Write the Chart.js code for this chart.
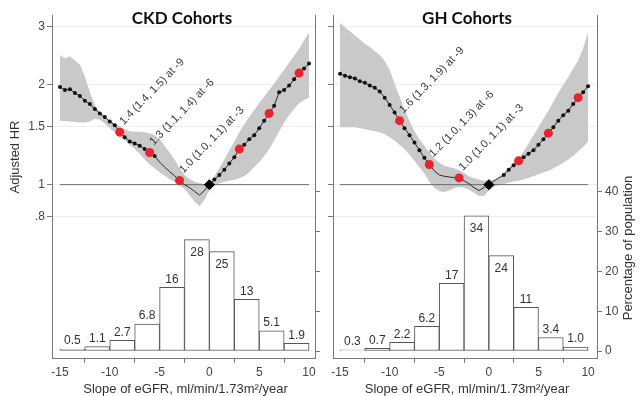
<!DOCTYPE html>
<html>
<head>
<meta charset="utf-8">
<title>eGFR slope - Adjusted HR</title>
<script src="https://cdn.jsdelivr.net/npm/chart.js@4.4.0/dist/chart.umd.min.js"></script>
<style>
    body { margin: 0; background: #fff; }
    .panels { display: flex; width: 642px; height: 396px; }
    canvas { display: block; }
</style>
</head>
<body>
<div class="panels">
    <canvas id="ckdChart" width="321" height="396"></canvas>
    <canvas id="ghChart" width="321" height="396"></canvas>
</div>
<script>
// Pendiente de eGFR (eje x), cada 0.5
const slopes = [-15, -14.5, -14, -13.5, -13, -12.5, -12, -11.5, -11, -10.5, -10, -9.5, -9, -8.5, -8, -7.5, -7, -6.5, -6, -5.5,
    -5, -4.5, -4, -3.5, -3, -2.5, -2, -1.5, -1, -0.5, 0, 0.5, 1, 1.5, 2, 2.5, 3, 3.5, 4, 4.5,
    5, 5.5, 6, 6.5, 7, 7.5, 8, 8.5, 9, 9.5, 10];

// CKD: HR ajustado y banda de confianza
const ckdHR = [1.97, 1.93, 1.94, 1.89, 1.85, 1.79, 1.75, 1.69, 1.64, 1.60, 1.55, 1.51, 1.44, 1.39, 1.35, 1.33, 1.31, 1.28, 1.25, 1.22,
    1.17, 1.13, 1.095, 1.064, 1.03, 1.0, 0.98, 0.955, 0.93, 0.96, 1.0, 1.036, 1.07, 1.11, 1.158, 1.21, 1.28, 1.32, 1.37, 1.41,
    1.48, 1.56, 1.64, 1.73, 1.90, 1.93, 1.99, 2.08, 2.17, 2.24, 2.32];
const ckdLow = [1.56, 1.555, 1.55, 1.545, 1.54, 1.54, 1.55, 1.58, 1.57, 1.53, 1.48, 1.44, 1.40, 1.36, 1.32, 1.28, 1.24, 1.19, 1.15, 1.12,
    1.09, 1.065, 1.04, 1.02, 1.0, 0.97, 0.93, 0.89, 0.86, 0.90, 0.96, 0.99, 1.01, 1.02, 1.03, 1.035, 1.045, 1.06, 1.09, 1.13,
    1.17, 1.22, 1.28, 1.36, 1.45, 1.54, 1.62, 1.69, 1.76, 1.80, 1.83];
const ckdHigh = [2.46, 2.40, 2.44, 2.37, 2.30, 2.12, 1.90, 1.74, 1.65, 1.60, 1.56, 1.53, 1.50, 1.47, 1.45, 1.445, 1.445, 1.44, 1.43, 1.41,
    1.37, 1.31, 1.25, 1.19, 1.12, 1.07, 1.04, 1.02, 1.01, 1.005, 1.01, 1.06, 1.12, 1.19, 1.27, 1.35, 1.44, 1.52, 1.60, 1.68,
    1.76, 1.84, 1.93, 2.02, 2.12, 2.22, 2.33, 2.45, 2.57, 2.72, 2.88];

// GH: HR ajustado y banda de confianza
const ghHR = [2.16, 2.13, 2.11, 2.09, 2.05, 2.03, 1.99, 1.96, 1.91, 1.83, 1.74, 1.65, 1.56, 1.48, 1.41, 1.34, 1.27, 1.205, 1.15, 1.10,
    1.07, 1.06, 1.055, 1.05, 1.048, 1.027, 1.007, 0.98, 0.96, 0.98, 1.0, 1.025, 1.048, 1.07, 1.11, 1.145, 1.18, 1.21, 1.24, 1.27,
    1.32, 1.37, 1.43, 1.49, 1.56, 1.62, 1.67, 1.75, 1.83, 1.90, 1.98];
const ghLow = [1.49, 1.49, 1.49, 1.49, 1.48, 1.47, 1.46, 1.45, 1.44, 1.42, 1.39, 1.36, 1.32, 1.28, 1.23, 1.18, 1.13, 1.08, 1.02, 0.98,
    0.955, 0.95, 0.96, 0.975, 0.985, 0.98, 0.965, 0.945, 0.925, 0.925, 0.96, 0.985, 0.998, 1.005, 1.015, 1.022, 1.028, 1.038, 1.048, 1.06,
    1.075, 1.09, 1.10, 1.12, 1.14, 1.165, 1.19, 1.22, 1.26, 1.30, 1.35];
const ghHigh = [3.08, 2.98, 2.90, 2.82, 2.74, 2.66, 2.60, 2.53, 2.46, 2.36, 2.22, 2.02, 1.84, 1.68, 1.56, 1.45, 1.37, 1.31, 1.25, 1.20,
    1.165, 1.14, 1.13, 1.12, 1.105, 1.085, 1.06, 1.045, 1.035, 1.027, 1.027, 1.035, 1.05, 1.08, 1.12, 1.16, 1.20, 1.26, 1.33, 1.41,
    1.49, 1.58, 1.67, 1.78, 1.89, 2.0, 2.11, 2.24, 2.37, 2.58, 2.88];

// Puntos destacados (rojos) y sus anotaciones
const markedSlopes = [-9, -6, -3, 3, 6, 9];
const ckdNotes = ['1.4 (1.4, 1.5) at -9', '1.3 (1.1, 1.4) at -6', '1.0 (1.0, 1.1) at -3'];
const ghNotes = ['1.6 (1.3, 1.9) at -9', '1.2 (1.0, 1.3) at -6', '1.0 (1.0, 1.1) at -3'];

// Histograma: porcentaje de población por intervalo de pendiente
const binCenters = [-13.75, -11.25, -8.75, -6.25, -3.75, -1.25, 1.25, 3.75, 6.25, 8.75];
const ckdPct = [0.5, 1.1, 2.7, 6.8, 16, 28, 25, 13, 5.1, 1.9];
const ghPct = [0.3, 0.7, 2.2, 6.2, 17, 34, 24, 11, 3.4, 1.0];
const ckdPctLabels = ['0.5', '1.1', '2.7', '6.8', '16', '28', '25', '13', '5.1', '1.9'];
const ghPctLabels = ['0.3', '0.7', '2.2', '6.2', '17', '34', '24', '11', '3.4', '1.0'];

// Marcas de los ejes
const slopeTicks = [-15, -10, -5, 0, 5, 10];
const hrTicks = [0.8, 1, 1.5, 2, 3];
const pctTicks = [0, 10, 20, 30, 40];

Chart.defaults.font.family = "'Liberation Sans', Arial, sans-serif";
Chart.defaults.color = '#444';

function toPoints(values) {
    return slopes.map((x, i) => ({ x: x, y: values[i] }));
}

function makePanel(canvasId, p) {
    const ctx = document.getElementById(canvasId).getContext('2d');
    const marked = markedSlopes.map(s => ({ x: s, y: p.hr[slopes.indexOf(s)] }));
    const bars = binCenters.map((x, i) => ({ x: x, y: p.pct[i] }));

    // Textos: título, ejes, anotaciones y valores de barras
    const textPlugin = {
        id: 'panelText',
        afterDatasetsDraw(chart) {
            const c = chart.ctx;
            c.save();
            // anotaciones giradas junto a los puntos rojos
            const red = chart.getDatasetMeta(1).data;
            c.font = '11px "Liberation Sans", Arial, sans-serif';
            c.fillStyle = '#3a3a3a';
            c.textAlign = 'left';
            c.textBaseline = 'alphabetic';
            p.notes.forEach((txt, i) => {
                const pt = red[i];
                c.save();
                c.translate(pt.x + 4, pt.y - 7);
                c.rotate(-0.8);
                c.fillText(txt, 0, 0);
                c.restore();
            });
            // etiquetas del histograma
            const barEls = chart.getDatasetMeta(6).data;
            c.font = '12px "Liberation Sans", Arial, sans-serif';
            c.fillStyle = '#333';
            c.textAlign = 'center';
            c.textBaseline = 'middle';
            barEls.forEach((b, i) => {
                const inside = p.pct[i] >= 20;
                c.fillText(p.pctLabels[i], b.x, inside ? b.y + 13 : b.y - 8);
            });
            c.restore();
        },
        afterDraw(chart) {
            const c = chart.ctx;
            const area = chart.chartArea;
            c.save();
            c.fillStyle = '#111';
            c.font = 'bold 17px Lato, "Open Sans", sans-serif';
            c.textAlign = 'center';
            c.textBaseline = 'middle';
            c.fillText(p.title, p.titleX, 19);

            c.fillStyle = '#333';
            c.font = '13px "Liberation Sans", Arial, sans-serif';
            c.fillText('Slope of eGFR, ml/min/1.73m\u00B2/year', (area.left + area.right) / 2 + 2, 389);

            if (p.leftTitle) {
                c.save();
                c.translate(15, 157);
                c.rotate(-Math.PI / 2);
                c.fillText(p.leftTitle, 0, 0);
                c.restore();
            }
            if (p.rightTitle) {
                c.save();
                c.translate(307, 248);
                c.rotate(-Math.PI / 2);
                c.fillText(p.rightTitle, 0, 0);
                c.restore();
            }
            c.restore();
        }
    };

    return new Chart(ctx, {
        type: 'line',
        data: {
            datasets: [
                {
                    label: 'Referencia',
                    data: [{ x: 0, y: 1 }],
                    showLine: false,
                    pointStyle: 'rectRot',
                    pointRadius: 5,
                    pointBackgroundColor: '#000',
                    pointBorderColor: '#000',
                    order: 0
                },
                {
                    label: 'Destacados',
                    data: marked,
                    showLine: false,
                    pointRadius: 4.5,
                    pointBackgroundColor: '#e8232b',
                    pointBorderWidth: 0,
                    order: 1
                },
                {
                    label: 'HR',
                    data: toPoints(p.hr),
                    borderColor: '#2a2a2a',
                    borderWidth: 1,
                    tension: 0,
                    pointRadius: c => {
                        const x = slopes[c.dataIndex];
                        return (x <= p.dotsUntil || x >= p.dotsFrom) ? 2 : 0;
                    },
                    pointBackgroundColor: '#111',
                    pointBorderWidth: 0,
                    order: 2
                },
                {
                    label: 'HR = 1',
                    data: [{ x: -15, y: 1 }, { x: 10, y: 1 }],
                    borderColor: '#6a6a6a',
                    borderWidth: 1,
                    pointRadius: 0,
                    order: 3
                },
                {
                    label: 'IC superior',
                    data: toPoints(p.high),
                    borderColor: 'rgba(0,0,0,0)',
                    borderWidth: 1,
                    pointRadius: 0,
                    fill: '+1',
                    backgroundColor: '#c9c9c9',
                    order: 4
                },
                {
                    label: 'IC inferior',
                    data: toPoints(p.low),
                    borderColor: 'rgba(0,0,0,0)',
                    borderWidth: 1,
                    pointRadius: 0,
                    fill: false,
                    order: 5
                },
                {
                    type: 'bar',
                    label: 'Porcentaje',
                    data: bars,
                    yAxisID: 'yPct',
                    backgroundColor: '#fff',
                    borderColor: '#555',
                    borderWidth: 1,
                    borderSkipped: false,
                    barPercentage: 1,
                    categoryPercentage: 1,
                    grouped: false,
                    order: 6
                }
            ]
        },
        options: {
            responsive: false,
            animation: false,
            devicePixelRatio: 1,
            layout: { padding: { top: 15, left: 0, right: 0, bottom: 0 } },
            plugins: {
                legend: { display: false },
                tooltip: { enabled: false }
            },
            scales: {
                x: {
                    type: 'linear',
                    min: p.xMin,
                    max: p.xMax,
                    offset: false,
                    afterBuildTicks: s => { s.ticks = slopeTicks.map(v => ({ value: v })); },
                    afterFit: s => { s.height = 38; },
                    grid: { drawOnChartArea: false, tickLength: 5, tickColor: '#777' },
                    border: { color: '#777' },
                    ticks: { font: { size: 12 }, color: '#444', padding: 2, maxRotation: 0, callback: v => String(v) }
                },
                y: {
                    type: 'logarithmic',
                    position: 'left',
                    min: 0.331,
                    max: 3.249,
                    afterBuildTicks: s => { s.ticks = hrTicks.map(v => ({ value: v })); },
                    afterFit: s => { s.width = p.leftWidth; },
                    grid: { color: '#ededed', tickLength: 5, tickColor: '#777' },
                    border: { color: '#777' },
                    ticks: {
                        display: p.hrLabels,
                        font: { size: 12 },
                        color: '#444',
                        padding: 2,
                        callback: v => (v === 0.8 ? '.8' : String(v))
                    }
                },
                yPct: {
                    type: 'linear',
                    position: 'right',
                    min: -1.76,
                    max: 84.5,
                    afterBuildTicks: s => { s.ticks = pctTicks.map(v => ({ value: v })); },
                    afterFit: s => { s.width = p.rightWidth; },
                    grid: { drawOnChartArea: false, tickLength: 5, tickColor: '#777' },
                    border: { color: '#777' },
                    ticks: { display: p.pctLabels2, font: { size: 12 }, color: '#444', padding: 3 }
                }
            }
        },
        plugins: [textPlugin]
    });
}

document.addEventListener('DOMContentLoaded', function () {
    makePanel('ckdChart', {
        title: 'CKD Cohorts', titleX: 182,
        hr: ckdHR, low: ckdLow, high: ckdHigh,
        pct: ckdPct, pctLabels: ckdPctLabels, notes: ckdNotes,
        dotsUntil: -5.5, dotsFrom: 0.5,
        xMin: -15.8, xMax: 10.6,
        leftWidth: 52, rightWidth: 3,
        hrLabels: true, pctLabels2: false,
        leftTitle: 'Adjusted HR', rightTitle: null
    });
    makePanel('ghChart', {
        title: 'GH Cohorts', titleX: 146,
        hr: ghHR, low: ghLow, high: ghHigh,
        pct: ghPct, pctLabels: ghPctLabels, notes: ghNotes,
        dotsUntil: -6.5, dotsFrom: 1.5,
        xMin: -15.71, xMax: 10.9,
        leftWidth: 12, rightWidth: 45,
        hrLabels: false, pctLabels2: true,
        leftTitle: null, rightTitle: 'Percentage of population'
    });
});
</script>
</body>
</html>
